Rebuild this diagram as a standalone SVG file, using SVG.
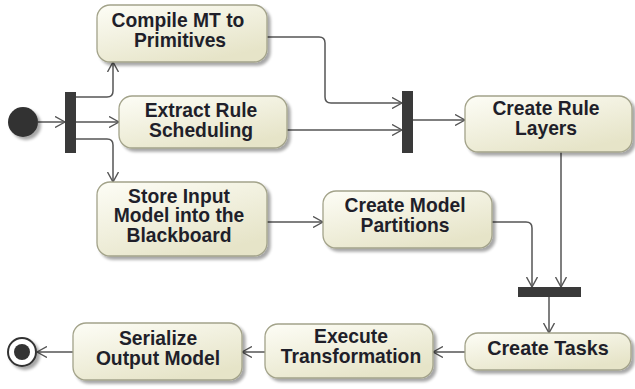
<svg xmlns="http://www.w3.org/2000/svg" width="635" height="389" viewBox="0 0 635 389">
<defs>
<linearGradient id="g" x1="0" y1="0" x2="0.6" y2="1">
<stop offset="0" stop-color="#fdfdf6"/>
<stop offset="1" stop-color="#e6e4c8"/>
</linearGradient>
<filter id="sh" x="-10%" y="-10%" width="130%" height="140%">
<feGaussianBlur in="SourceAlpha" stdDeviation="1.5"/>
<feOffset dx="2.5" dy="3" result="b"/>
<feComponentTransfer><feFuncA type="linear" slope="0.35"/></feComponentTransfer>
<feMerge><feMergeNode/><feMergeNode in="SourceGraphic"/></feMerge>
</filter>
<marker id="ar" viewBox="0 0 10 12" refX="10" refY="6" markerWidth="10" markerHeight="12" markerUnits="userSpaceOnUse" orient="auto">
<path d="M0,0.5 L10,6 L0,11.5" fill="none" stroke="#555" stroke-width="1.4"/>
</marker>
</defs>
<style>
.box{fill:url(#g);stroke:#a3a38a;stroke-width:1.3;filter:url(#sh)}
.t{font-family:"Liberation Sans",Arial,sans-serif;font-weight:bold;font-size:19.3px;fill:#1f1f2a;text-anchor:middle}
.c{fill:none;stroke:#555;stroke-width:1.5;marker-end:url(#ar)}
.bar{fill:#3a3a3a}
</style>
<rect width="635" height="389" fill="#ffffff"/>

<g id="connectors">
<path class="c" d="M38,122 H65"/>
<path class="c" d="M76,97 H107 Q113,97 113,91 V62"/>
<path class="c" d="M76,122 H119"/>
<path class="c" d="M76,139 H107 Q113,139 113,145 V182"/>
<path class="c" d="M267,37 H319 Q325,37 325,43 V97 Q325,103 331,103 H402"/>
<path class="c" d="M287,130 H402"/>
<path class="c" d="M413,120 H465"/>
<path class="c" d="M561,152 V287"/>
<path class="c" d="M267,222 H323"/>
<path class="c" d="M492,222 H526 Q532,222 532,228 V287"/>
<path class="c" d="M549,297 V333"/>
<path class="c" d="M465,352 H433"/>
<path class="c" d="M265,352 H242"/>
<path class="c" d="M73,352 H37"/>
</g>

<g id="initial"><circle cx="23" cy="122" r="15" fill="#333" filter="url(#sh)"/></g>
<g id="fork1"><rect class="bar" x="65" y="92" width="11" height="61"/></g>
<g id="join1"><rect class="bar" x="402" y="91" width="11" height="62"/></g>
<g id="join2"><rect class="bar" x="518" y="287" width="63" height="10"/></g>

<g id="compile">
<rect class="box" x="97" y="5" width="170" height="57" rx="13"/>
<text class="t" x="178" y="27">Compile MT to</text>
<text class="t" x="180" y="47">Primitives</text>
</g>
<g id="extract">
<rect class="box" x="119" y="96" width="168" height="52" rx="13"/>
<text class="t" x="201" y="117">Extract Rule</text>
<text class="t" x="201" y="137">Scheduling</text>
</g>
<g id="store">
<rect class="box" x="97" y="182" width="170" height="74" rx="13"/>
<text class="t" x="179" y="203">Store Input</text>
<text class="t" x="179" y="222">Model into the</text>
<text class="t" x="179" y="242">Blackboard</text>
</g>
<g id="partitions">
<rect class="box" x="323" y="191" width="169" height="57" rx="13"/>
<text class="t" x="405" y="212">Create Model</text>
<text class="t" x="405" y="232">Partitions</text>
</g>
<g id="rulelayers">
<rect class="box" x="465" y="96" width="167" height="56" rx="13"/>
<text class="t" x="546" y="115">Create Rule</text>
<text class="t" x="546" y="135">Layers</text>
</g>
<g id="tasks">
<rect class="box" x="465" y="333" width="166" height="37" rx="13"/>
<text class="t" x="548" y="355" style="font-size:19.8px">Create Tasks</text>
</g>
<g id="execute">
<rect class="box" x="265" y="324" width="168" height="54" rx="13"/>
<text class="t" x="351" y="343">Execute</text>
<text class="t" x="351" y="363">Transformation</text>
</g>
<g id="serialize">
<rect class="box" x="73" y="323" width="169" height="57" rx="13"/>
<text class="t" x="158" y="345">Serialize</text>
<text class="t" x="158" y="365">Output Model</text>
</g>
<g id="final">
<circle cx="22" cy="352" r="14" fill="#fff" stroke="#333" stroke-width="2" filter="url(#sh)"/>
<circle cx="22" cy="352" r="8" fill="#333"/>
</g>
</svg>
